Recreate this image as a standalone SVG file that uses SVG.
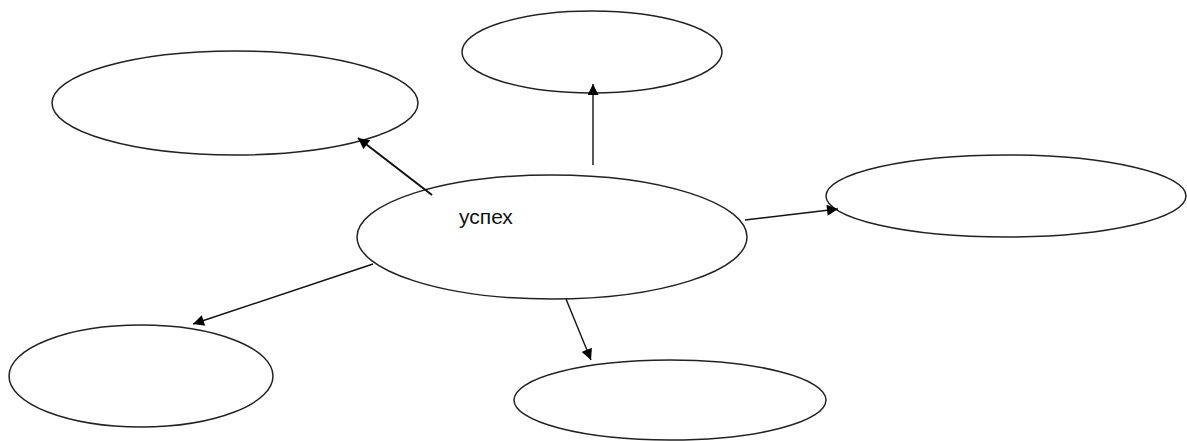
<svg xmlns="http://www.w3.org/2000/svg" width="1187" height="441" viewBox="0 0 1187 441">
<style>
.node{fill:#fff;stroke:#222;stroke-width:1.5}
.edge{stroke:#111;stroke-width:1.4;fill:none}
.lbl{font-family:"Liberation Sans",Arial,sans-serif;font-size:21px;fill:#111}
</style>
<defs>
<marker id="ah" viewBox="0 0 10 10" refX="10" refY="5" markerWidth="12" markerHeight="11" markerUnits="userSpaceOnUse" orient="auto">
<path d="M0,0 L10,5 L0,10 z" fill="#000"/>
</marker>
</defs>
<rect width="1187" height="441" fill="#fff"/>
<g id="n-topleft"><ellipse class="node" cx="235" cy="103" rx="183" ry="52"/></g>
<g id="n-top"><ellipse class="node" cx="592" cy="52" rx="130" ry="41"/></g>
<g id="n-right"><ellipse class="node" cx="1006" cy="196" rx="180" ry="41"/></g>
<g id="n-botleft"><ellipse class="node" cx="141" cy="376" rx="132" ry="51"/></g>
<g id="n-bottom"><ellipse class="node" cx="670" cy="400" rx="156" ry="40"/></g>
<g id="n-center"><ellipse class="node" cx="552" cy="237" rx="195" ry="62"/>
<text class="lbl" x="459" y="224">успех</text></g>
<g id="connectors">
<line class="edge" style="stroke-width:2" x1="432" y1="195" x2="358" y2="138" marker-end="url(#ah)"/>
<line class="edge" x1="593" y1="165" x2="593" y2="84" marker-end="url(#ah)"/>
<line class="edge" x1="745" y1="220" x2="838" y2="209" marker-end="url(#ah)"/>
<line class="edge" x1="373" y1="264" x2="193" y2="324" marker-end="url(#ah)"/>
<line class="edge" x1="566" y1="299" x2="591" y2="360" marker-end="url(#ah)"/>
</g>
</svg>
